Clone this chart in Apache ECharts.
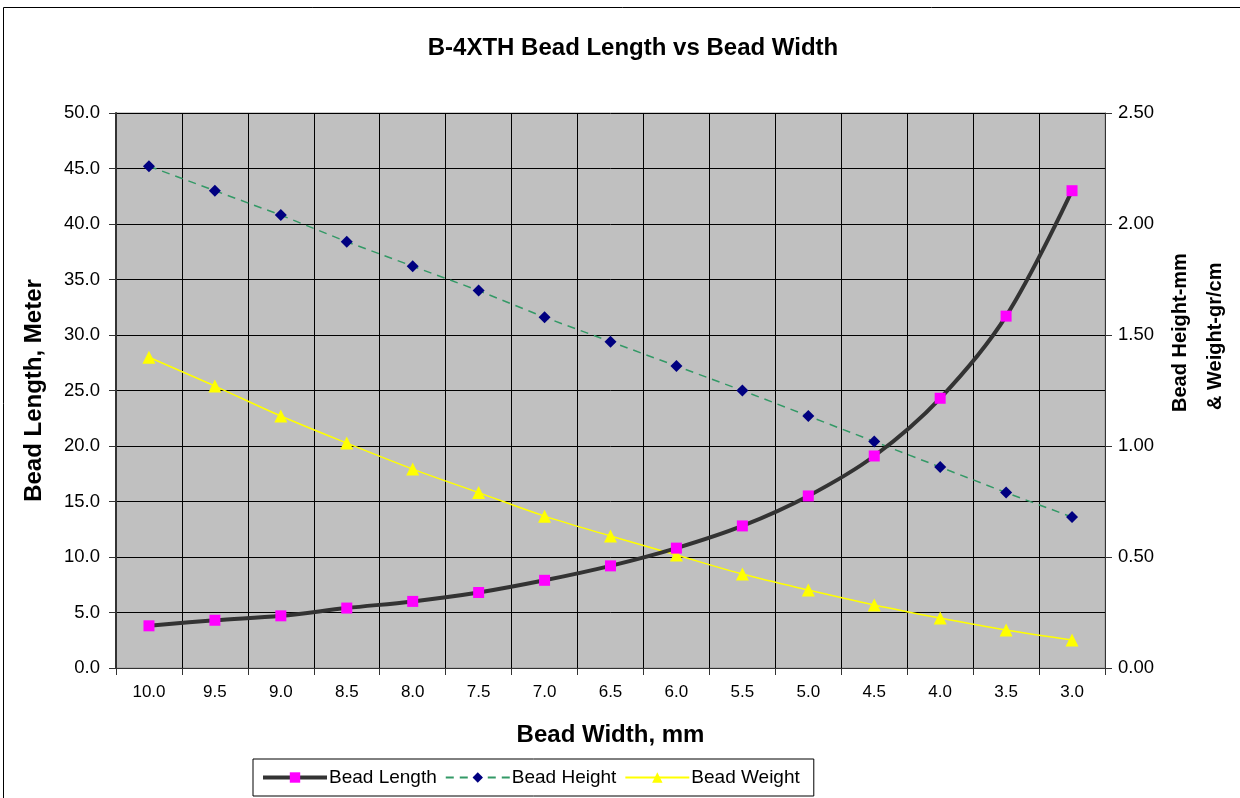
<!DOCTYPE html>
<html><head><meta charset="utf-8">
<script src="https://cdn.jsdelivr.net/npm/echarts@6/dist/echarts.min.js"></script>
<style>html,body{margin:0;padding:0;background:#fff;overflow:hidden}#c{width:1240px;height:798px}</style>
</head><body><div id="c"></div>
<script>
const categories = ['10.0','9.5','9.0','8.5','8.0','7.5','7.0','6.5','6.0','5.5','5.0','4.5','4.0','3.5','3.0'];
const beadLength = [3.8,4.3,4.7,5.4,6.0,6.8,7.9,9.2,10.8,12.8,15.5,19.1,24.3,31.7,43.0];
const beadHeight = [2.26,2.15,2.04,1.92,1.81,1.70,1.58,1.47,1.36,1.25,1.135,1.02,0.905,0.79,0.68];
const beadWeight = [1.40,1.27,1.135,1.013,0.896,0.79,0.684,0.595,0.509,0.423,0.351,0.284,0.225,0.171,0.126];
const rightTitle1 = 'Bead Height-mm';
const rightTitle2 = '& Weight-gr/cm';

const chart = echarts.init(document.getElementById('c'));
const F = 'Liberation Sans, Arial, sans-serif';
chart.setOption({
  animation: false,
  textStyle: {fontFamily: F},
  title: {text: 'B-4XTH Bead Length vs Bead Width', left: 628, top: 31, textAlign: 'center',
    textStyle: {fontSize: 24, fontWeight: 'bold', color: '#000', fontFamily: F}},
  graphic: [
    {type: 'rect', shape: {x: 3.5, y: 7.5, width: 1400, height: 1000},
     style: {fill: 'none', stroke: '#000', lineWidth: 1}, z: -1},
    {type: 'text', x: 1180, y: 412, rotation: Math.PI / 2,
     style: {text: rightTitle1, font: 'bold 20px ' + F, fill: '#000', textAlign: 'left', textVerticalAlign: 'middle'}},
    {type: 'text', x: 1215, y: 410, rotation: Math.PI / 2,
     style: {text: rightTitle2, font: 'bold 20px ' + F, fill: '#000', textAlign: 'left', textVerticalAlign: 'middle'}}
  ],
  legend: {left: 253, top: 759, padding: [9, 14, 9, 8],
    backgroundColor: '#fff', borderColor: '#000', borderWidth: 1, borderRadius: 0,
    itemWidth: 64, itemHeight: 13, itemGap: 8,
    textStyle: {fontSize: 19, color: '#000', fontFamily: F, padding: [0, 0, 0, -3]},
    data: [
      {name: 'Bead Length', lineStyle: {width: 4, color: '#333333'}},
      {name: 'Bead Height'},
      {name: 'Bead Weight'}]},
  grid: {left: 116, right: 135, top: 113, bottom: 130, show: true, backgroundColor: '#C0C0C0', borderColor: '#999', borderWidth: 1},
  xAxis: {type: 'category', data: categories, boundaryGap: true,
    name: 'Bead Width, mm', nameLocation: 'middle', nameGap: 55,
    nameTextStyle: {fontSize: 24, fontWeight: 'bold', color: '#000', fontFamily: F},
    axisLine: {lineStyle: {color: '#333', width: 1}},
    axisTick: {show: true, length: 7, lineStyle: {color: '#333'}},
    axisLabel: {fontSize: 17, color: '#000', margin: 16, fontFamily: F},
    splitLine: {show: true, lineStyle: {color: '#000', width: 1}}},
  yAxis: [{type: 'value', min: 0, max: 50, interval: 5,
    name: 'Bead Length, Meter', nameLocation: 'middle', nameGap: 70, nameRotate: 90,
    nameTextStyle: {fontSize: 24, fontWeight: 'bold', color: '#000', fontFamily: F},
    axisLine: {show: true, lineStyle: {color: '#333', width: 2}},
    axisTick: {show: true, length: 7, lineStyle: {color: '#333'}},
    axisLabel: {fontSize: 18.5, color: '#000', margin: 16, fontFamily: F, formatter: v => v.toFixed(1)},
    splitLine: {show: true, lineStyle: {color: '#000', width: 1}}},
   {type: 'value', min: 0, max: 2.5, interval: 0.5, position: 'right',
    axisLine: {show: true, lineStyle: {color: '#333', width: 1}},
    axisTick: {show: true, length: 7, lineStyle: {color: '#333'}},
    axisLabel: {fontSize: 18.5, color: '#000', margin: 13, fontFamily: F, formatter: v => v.toFixed(2)},
    splitLine: {show: false}}],
  series: [
    {name: 'Bead Length', type: 'line', yAxisIndex: 0, data: beadLength, smooth: 0.35,
     symbol: 'rect', symbolSize: 11, itemStyle: {color: '#FF00FF'},
     lineStyle: {color: '#333333', width: 4}, z: 3},
    {name: 'Bead Height', type: 'line', yAxisIndex: 1, data: beadHeight,
     symbol: 'diamond', symbolSize: 12, itemStyle: {color: '#000080'},
     lineStyle: {color: '#339966', width: 1.5, type: [8, 6]}, z: 2},
    {name: 'Bead Weight', type: 'line', yAxisIndex: 1, data: beadWeight, smooth: 0.35,
     symbol: 'triangle', symbolSize: 13, itemStyle: {color: '#FFFF00'},
     lineStyle: {color: '#FFFF00', width: 1.5}, z: 2}
  ]
});
</script></body></html>
